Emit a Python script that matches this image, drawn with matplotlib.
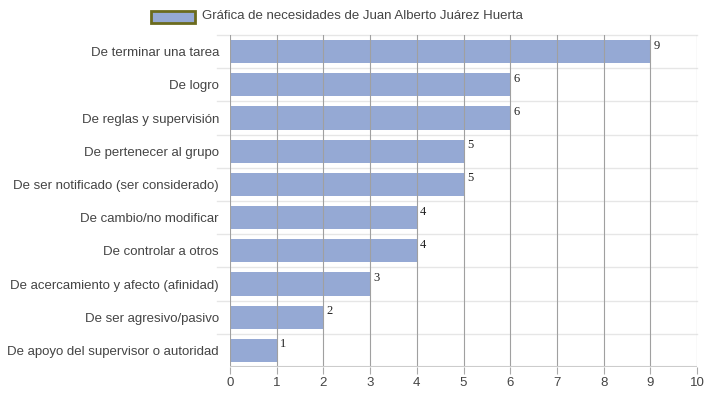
import matplotlib.pyplot as plt
from matplotlib.patches import Rectangle

categories = ["De terminar una tarea", "De logro", "De reglas y supervisión",
              "De pertenecer al grupo", "De ser notificado (ser considerado)",
              "De cambio/no modificar", "De controlar a otros",
              "De acercamiento y afecto (afinidad)", "De ser agresivo/pasivo",
              "De apoyo del supervisor o autoridad"]
values = [9, 6, 6, 5, 5, 4, 4, 3, 2, 1]
xticks = list(range(0, 11))
legend_label = "Gráfica de necesidades de Juan Alberto Juárez Huerta"

plt.rcParams['font.family'] = ['Liberation Sans', 'DejaVu Sans']

fig = plt.figure(figsize=(7.07, 3.98), dpi=100)
ax = fig.add_axes([230/707, 1-367/398, 467/707, 332/398])

n = len(categories)
ypos = list(range(n))
ax.barh(ypos, values, height=0.7, color='#95a9d4', zorder=1)
ax.set_ylim(n - 0.5, -0.5)
ax.set_xlim(0, 10)
ax.set_xticks(xticks)
ax.set_yticks(ypos)
ax.set_yticklabels(categories, fontsize=9.5, color='#444444')
ax.tick_params(axis='y', length=0, pad=8)
ax.tick_params(axis='x', length=5, color='#aaaaaa', labelsize=9.5, labelcolor='#444444', pad=2)

# vertical gridlines drawn over bars
for t in xticks:
    ax.axvline(t, color='#a0a0a0', lw=0.8, zorder=2)
# light category separators, reaching a bit into the label area
for b in range(n):
    ax.plot([-13/467, 1], [b - 0.5, b - 0.5], transform=ax.get_yaxis_transform(),
            color='#e6e6e6', lw=1, zorder=0, clip_on=False)
ax.axhline(n - 0.5, color='#cccccc', lw=1.5, zorder=3)

for s in ax.spines.values():
    s.set_visible(False)

for y, v in zip(ypos, values):
    ax.text(v + 0.07, y - 0.18, str(v), fontsize=9, family='Liberation Serif',
            color='#222222', va='center', ha='left', zorder=4)

# legend
fig.patches.append(Rectangle((151/707, 1-23/398), 44/707, 12/398, transform=fig.transFigure,
                             facecolor='#95a9d4', edgecolor='#6b6b1e', lw=2))
fig.text(202/707, 1-16/398, legend_label, fontsize=9.5, color='#444444', va='center', ha='left')

fig.savefig('out.png', dpi=100)
